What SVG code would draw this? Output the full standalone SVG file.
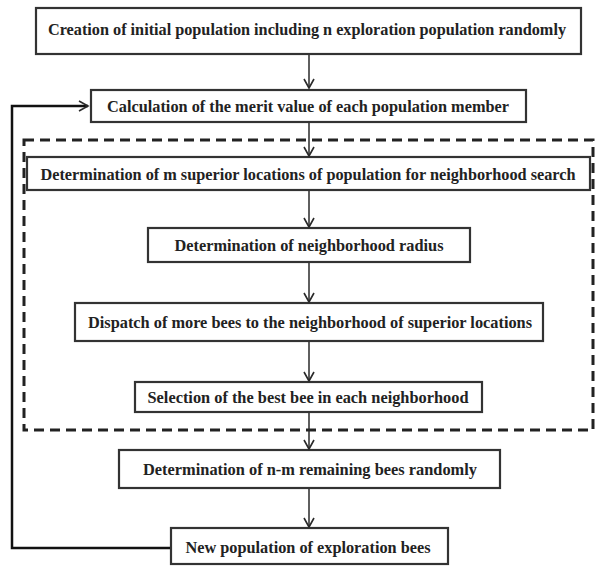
<svg xmlns="http://www.w3.org/2000/svg" width="597" height="567" viewBox="0 0 597 567">
<defs>
<marker id="v" viewBox="0 0 12 12" refX="10" refY="6" markerWidth="12" markerHeight="12" markerUnits="userSpaceOnUse" orient="auto">
<path d="M1,1 L10,6 L1,11" fill="none" stroke="#2a2a2a" stroke-width="1.6"/>
</marker>
</defs>
<style>
.box{fill:#fff;stroke:#333;stroke-width:2.2}
.t{font-family:"Liberation Serif",serif;font-weight:bold;font-size:16.5px;fill:#222;text-anchor:middle}
.c{fill:none;stroke:#2a2a2a;stroke-width:1.5}
.fb{fill:none;stroke:#111;stroke-width:2.5}
</style>
<rect width="597" height="567" fill="#fff"/>
<rect x="24" y="140" width="569" height="290" fill="none" stroke="#222" stroke-width="3" stroke-dasharray="10 6"/>
<g id="n1"><rect class="box" x="36" y="8" width="545" height="46"/><text class="t" x="307" y="35" textLength="518" lengthAdjust="spacingAndGlyphs">Creation of initial population including n exploration population randomly</text></g>
<g id="n2"><rect class="box" x="91" y="90" width="435" height="32"/><text class="t" x="308" y="112" textLength="402" lengthAdjust="spacingAndGlyphs">Calculation of the merit value of each population member</text></g>
<g id="n3"><rect class="box" x="27" y="157" width="563" height="33"/><text class="t" x="308" y="180" textLength="535" lengthAdjust="spacingAndGlyphs">Determination of m superior locations of population for neighborhood search</text></g>
<g id="n4"><rect class="box" x="148" y="228" width="322" height="34"/><text class="t" x="309" y="251" textLength="269" lengthAdjust="spacingAndGlyphs">Determination of neighborhood radius</text></g>
<g id="n5"><rect class="box" x="75" y="303" width="468" height="38"/><text class="t" x="310" y="328" textLength="444" lengthAdjust="spacingAndGlyphs">Dispatch of more bees to the neighborhood of superior locations</text></g>
<g id="n6"><rect class="box" x="135" y="382" width="347" height="30"/><text class="t" x="308" y="403" textLength="321" lengthAdjust="spacingAndGlyphs">Selection of the best bee in each neighborhood</text></g>
<g id="n7"><rect class="box" x="119" y="450" width="381" height="38"/><text class="t" x="310" y="475" textLength="334" lengthAdjust="spacingAndGlyphs">Determination of n-m remaining bees randomly</text></g>
<g id="n8"><rect class="box" x="171" y="528" width="277" height="36"/><text class="t" x="308" y="553" textLength="245" lengthAdjust="spacingAndGlyphs">New population of exploration bees</text></g>
<g id="connectors">
<line class="c" x1="309" y1="55" x2="309" y2="88" marker-end="url(#v)"/>
<line class="c" x1="309" y1="123" x2="309" y2="156" marker-end="url(#v)"/>
<line class="c" x1="309" y1="191" x2="309" y2="227" marker-end="url(#v)"/>
<line class="c" x1="309" y1="263" x2="309" y2="302" marker-end="url(#v)"/>
<line class="c" x1="309" y1="342" x2="309" y2="381" marker-end="url(#v)"/>
<line class="c" x1="309" y1="413" x2="309" y2="449" marker-end="url(#v)"/>
<line class="c" x1="309" y1="489" x2="309" y2="527" marker-end="url(#v)"/>
<path class="fb" d="M170,548 H12 V106 H88" marker-end="url(#v)"/>
</g>
</svg>
